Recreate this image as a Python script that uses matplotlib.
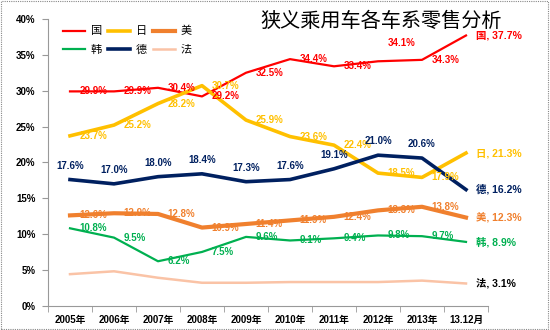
import matplotlib
matplotlib.use("Agg")
import matplotlib.pyplot as plt
from matplotlib.patches import Rectangle

plt.rcParams['font.family'] = ['Liberation Sans', 'Noto Sans CJK SC']

# Data
years = ['2005年', '2006年', '2007年', '2008年', '2009年', '2010年',
         '2011年', '2012年', '2013年', '13.12月']
names = ['国', '日', '美', '韩', '德', '法']
guo = [29.9, 29.9, 30.4, 29.2, 32.5, 34.4, 33.4, 34.1, 34.3, 37.7]
ri = [23.7, 25.2, 28.2, 30.7, 25.9, 23.6, 22.4, 18.5, 17.9, 21.3]
mei = [12.6, 12.9, 12.8, 10.9, 11.4, 11.9, 12.4, 13.3, 13.8, 12.3]
han = [10.8, 9.5, 6.2, 7.5, 9.6, 9.1, 9.4, 9.8, 9.7, 8.9]
de = [17.6, 17.0, 18.0, 18.4, 17.3, 17.6, 19.1, 21.0, 20.6, 16.2]
fa = [4.4, 4.8, 3.9, 3.2, 3.2, 3.3, 3.3, 3.3, 3.5, 3.1]

series = [guo, ri, mei, han, de, fa]
colors = ['#FF0000', '#FFC000', '#F0802E', '#00B050', '#002060', '#FAC3A6']
widths = [1.6, 2.6, 3.0, 1.6, 2.6, 1.8]
end_colors = ['#FF0000', '#FFC000', '#F0802E', '#00B050', '#002060', '#000000']

fig = plt.figure(figsize=(5.5, 3.3), dpi=100)
ax = fig.add_axes([48 / 550, 1 - 305.7 / 330, 440 / 550, (305.7 - 19) / 330])

x = list(range(len(years)))
lines = {}
for name, vals, c, lw in zip(names, series, colors, widths):
    lines[name], = ax.plot(x, vals, color=c, lw=lw, label=name, solid_joinstyle='round')

# value labels
lab_font = dict(fontsize=7, fontweight='bold', family=['Liberation Sans', 'Noto Sans CJK SC'])
for name, vals, c in zip(names, series, colors):
    if name == '法':
        continue
    for j, v in enumerate(vals[:-1]):
        if name == '德':
            ax.annotate(f'{v:.1f}%', (j, v), xytext=(0, 10), textcoords='offset points',
                        ha='center', va='center', color=c, **lab_font)
        elif name == '国' and j == 7:
            ax.annotate(f'{v:.1f}%', (j, v), xytext=(7, 13), textcoords='offset points',
                        ha='left', va='center', color=c, **lab_font)
        else:
            ax.annotate(f'{v:.1f}%', (j, v), xytext=(7, 0), textcoords='offset points',
                        ha='left', va='center', color=c, **lab_font)

# end labels
for name, vals, c in zip(names, series, end_colors):
    ax.annotate(f'{name}, {vals[-1]:.1f}%', (len(vals) - 1, vals[-1]), xytext=(7, 0),
                textcoords='offset points', ha='left', va='center', color=c,
                fontsize=7.5, fontweight='bold', annotation_clip=False,
                family=['Liberation Sans', 'Noto Sans CJK SC'])

ax.set_xlim(-0.5, len(years) - 0.5)
ax.set_ylim(0, 40)
ax.set_yticks(range(0, 41, 5))
ax.set_yticklabels([f'{t}%' for t in range(0, 41, 5)], fontsize=7, fontweight='bold')
ax.set_xticks(x)
ax.set_xticklabels(years, fontsize=7, fontweight='bold')
ax.tick_params(axis='x', length=0, pad=7)
ax.set_xticks([k - 0.5 for k in range(len(years) + 1)], minor=True)
ax.tick_params(axis='x', which='minor', length=4, color='#999999')
ax.tick_params(axis='y', length=4, color='#999999', pad=5)
for s in ['top', 'right']:
    ax.spines[s].set_visible(False)
for s in ['left', 'bottom']:
    ax.spines[s].set_color('#999999')

# legend filled row by row
order = ['国', '韩', '日', '德', '美', '法']
ax.legend([lines[n] for n in order], order, loc='upper left',
          bbox_to_anchor=(0.034, 0.975), ncol=3, frameon=False,
          handlelength=2.0, handletextpad=0.5, columnspacing=0.55,
          labelspacing=0.75, borderpad=0, borderaxespad=0,
          prop={'family': ['Noto Sans CJK SC'], 'size': 8})

fig.text(0.693, 0.936, '狭义乘用车各车系零售分析', fontsize=14.5,
         family=['Noto Sans CJK SC'], ha='center', va='center')

fig.patches.append(Rectangle((0.002, 0.003), 0.995, 0.993, transform=fig.transFigure,
                             fill=False, ec='#888888', lw=0.8, ls=(0, (1, 1))))

fig.savefig('out.png', dpi=100)
